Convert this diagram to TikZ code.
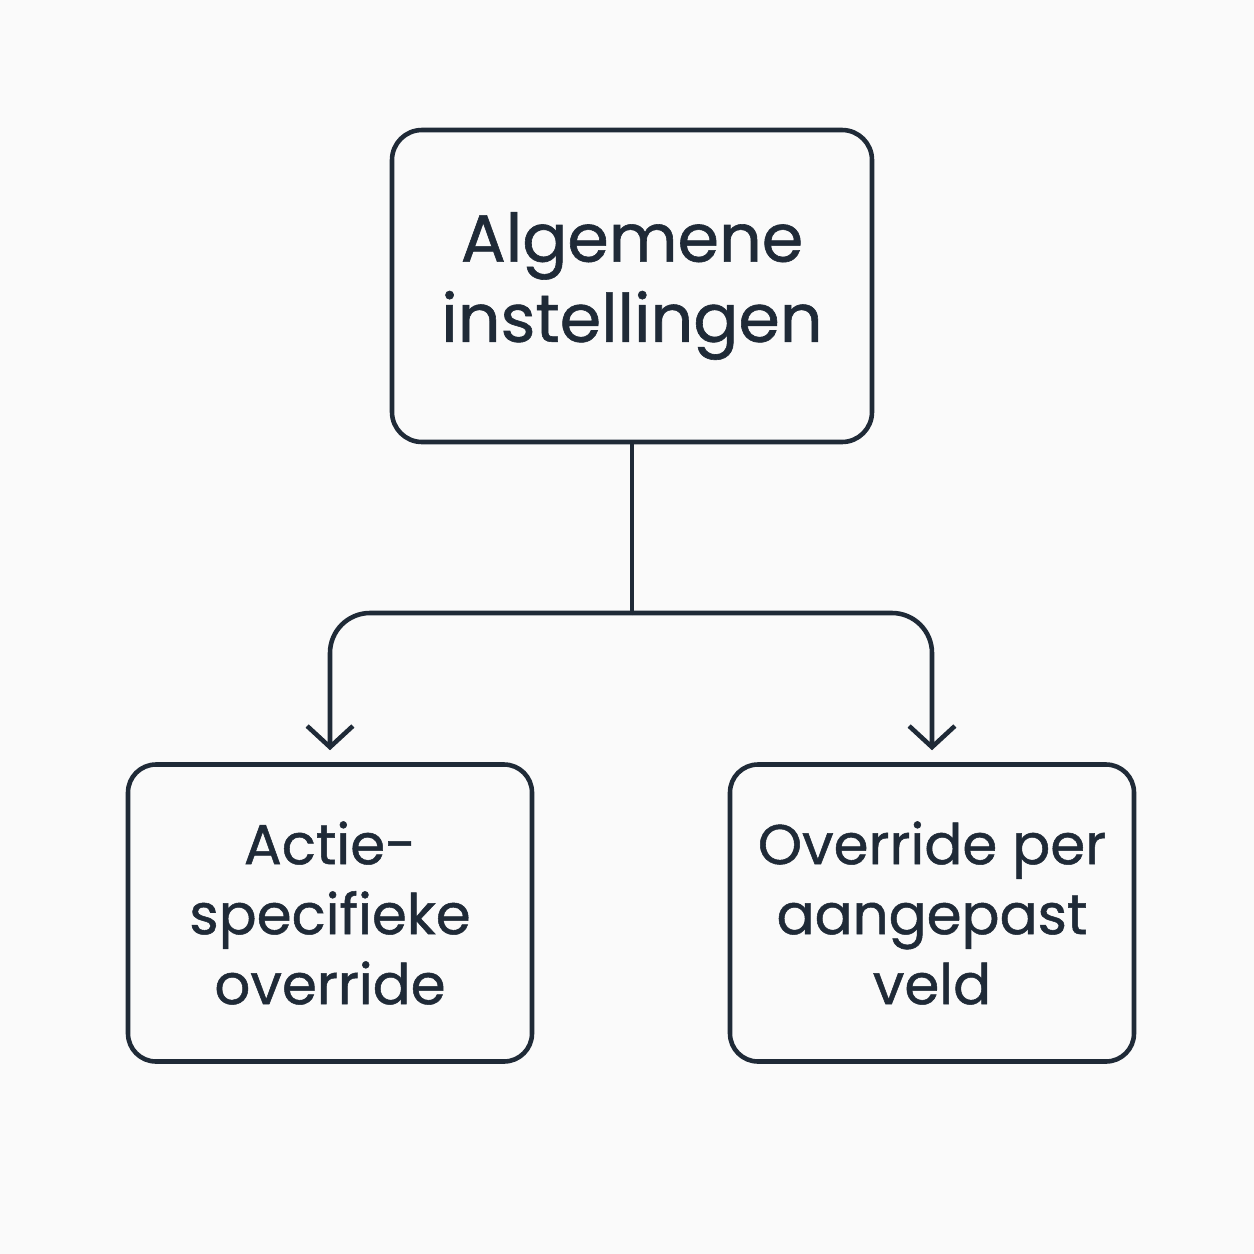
\documentclass[tikz,border=0pt]{standalone}
\usepackage{fontspec}
\setmainfont{Poppins}[BoldFont={Poppins}, BoldFeatures={FakeBold=0.9}]
\usetikzlibrary{arrows.meta}
\definecolor{ink}{HTML}{1F2A37}
\definecolor{paper}{HTML}{FAFAFA}

\begin{document}
\begin{tikzpicture}[
    x=0.01cm, y=-0.01cm,
    topbox/.style={draw=ink, line width=1.3pt, rounded corners=30*0.01cm, minimum width=480*0.01cm, minimum height=312*0.01cm, align=center, text=ink, font=\fontsize{19}{22.8}\selectfont\bfseries},
    leafbox/.style={draw=ink, line width=1.3pt, rounded corners=28*0.01cm, minimum width=404*0.01cm, minimum height=297*0.01cm, align=center, text=ink, font=\fontsize{16}{19.9}\selectfont\bfseries},
    link/.style={draw=ink, line width=1.3pt},
]
    \fill[paper] (0, 0) rectangle (1254, 1254);
    \useasboundingbox (0, 0) rectangle (1254, 1254);

    \node[topbox] (general) at (632, 286) {Algemene\\instellingen};
    \node[leafbox] (action) at (330, 913) {Actie-\\specifieke\\override};
    \node[leafbox] (field) at (932, 913) {Override per\\aangepast\\veld};

    \coordinate (split) at (632, 613);

    \draw[link] (general.south) -- (split);
    \foreach \leaf in {action, field} {
        \draw[link, rounded corners=40*0.01cm, -{Straight Barb[length=6pt, width=13pt, line width=1.3pt]}, shorten >=12*0.01cm] (split) -| (\leaf.north);
    }

\end{tikzpicture}
\end{document}
